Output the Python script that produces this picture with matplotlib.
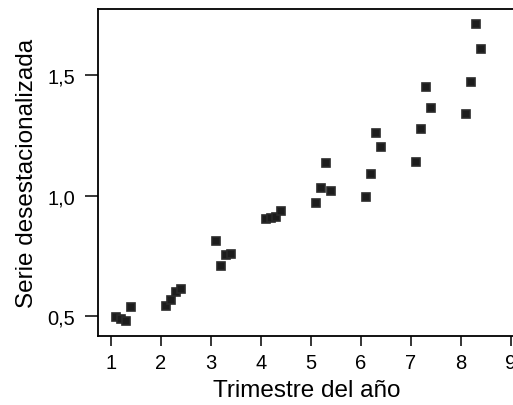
import numpy as np
import matplotlib
matplotlib.use("Agg")
import matplotlib.pyplot as plt
from matplotlib.ticker import FuncFormatter

# quarter positions (year + quarter/10) and deseasonalised series
trimestre = [1.1, 1.2, 1.3, 1.4,
             2.1, 2.2, 2.3, 2.4,
             3.1, 3.2, 3.3, 3.4,
             4.1, 4.2, 4.3, 4.4,
             5.1, 5.2, 5.3, 5.4,
             6.1, 6.2, 6.3, 6.4,
             7.1, 7.2, 7.3, 7.4,
             8.1, 8.2, 8.3, 8.4]
serie = [0.496, 0.487, 0.479, 0.537,
         0.541, 0.566, 0.600, 0.613,
         0.811, 0.707, 0.753, 0.757,
         0.902, 0.907, 0.910, 0.935,
         0.971, 1.030, 1.137, 1.017,
         0.996, 1.090, 1.260, 1.200,
         1.141, 1.278, 1.450, 1.363,
         1.340, 1.470, 1.712, 1.608]

xticks = [1, 2, 3, 4, 5, 6, 7, 8, 9]
yticks = [0.5, 1.0, 1.5]

plt.rcParams['font.family'] = ['Liberation Sans', 'DejaVu Sans']

fig = plt.figure(figsize=(5.13, 4.06), dpi=100)
ax = fig.add_axes([0.191, 0.170, 0.815, 0.805])

ax.plot(trimestre, serie, linestyle='none', marker='s', markersize=5.6,
        markerfacecolor='#1c1c1c', markeredgecolor='#2a2a2a',
        markeredgewidth=1.2)

ax.set_xlim(0.74, 9.1)
ax.set_ylim(0.417, 1.774)
ax.set_xticks(xticks)
ax.set_yticks(yticks)
ax.yaxis.set_major_formatter(FuncFormatter(lambda v, p: f"{v:.1f}".replace('.', ',')))

for s in ['left', 'bottom', 'top']:
    ax.spines[s].set_linewidth(1.3)
ax.spines['right'].set_visible(False)
ax.tick_params(direction='out', width=1.1, labelsize=14.5)
ax.tick_params(axis='x', length=7, pad=5)
ax.tick_params(axis='y', length=9.5, pad=7)

ax.set_xlabel('Trimestre del año', fontsize=17.5, labelpad=5)
ax.set_ylabel('Serie desestacionalizada', fontsize=17.5, labelpad=7)

fig.savefig('out.png', dpi=100)
